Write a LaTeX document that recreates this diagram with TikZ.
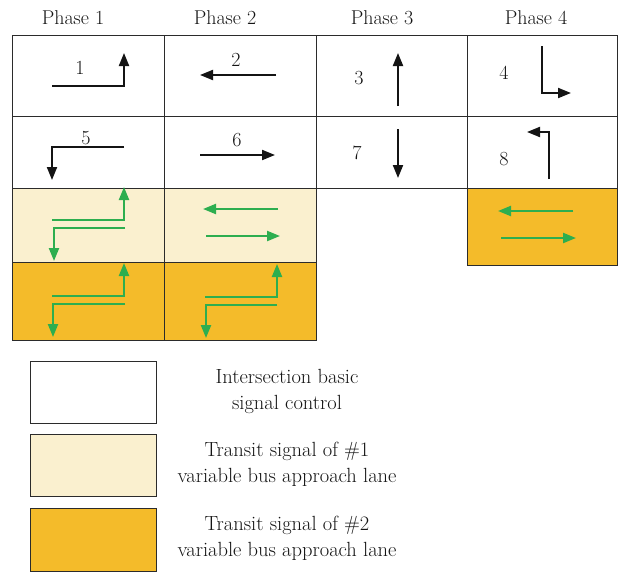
\documentclass[tikz,border=0pt]{standalone}
\usetikzlibrary{arrows.meta}
\definecolor{paleY}{HTML}{FAF0CF}
\definecolor{busO}{HTML}{F4BB2A}
\definecolor{sigG}{HTML}{2DAE4F}
\definecolor{gridC}{HTML}{2B2B2B}
\definecolor{inkC}{HTML}{141414}
\begin{document}
\begin{tikzpicture}[x=1pt,y=-1pt,
  cell/.style={draw=gridC, line width=0.9pt, inner sep=0pt, anchor=north west},
  keybox/.style={draw=gridC, line width=1pt, inner sep=0pt, anchor=north west,
    minimum width=126pt, minimum height=62pt},
  blk/.style={line width=2pt, inkC, line join=miter, -{Triangle[length=13pt,width=10pt]}},
  grn/.style={line width=2.2pt, sigG, line join=miter, -{Triangle[length=13pt,width=10pt]}},
  lbl/.style={font=\fontsize{20}{22}\selectfont, inner sep=0pt, text=inkC},
  keytxt/.style={font=\fontsize{20.5}{26}\selectfont, align=center, text=inkC, inner sep=0pt},
]
\useasboundingbox (0,0) rectangle (618,573);

% phase headings
\node[lbl] (h1) at (73,18) {Phase 1};
\node[lbl] (h2) at (225,18) {Phase 2};
\node[lbl] (h3) at (382,18) {Phase 3};
\node[lbl] (h4) at (536,18) {Phase 4};

% signal grid: rows 1-2 basic control
\node[cell, fill=white, minimum width=152pt, minimum height=81pt] (a1) at (12,35) {};
\node[cell, fill=white, minimum width=152pt, minimum height=81pt] (a2) at (164,35) {};
\node[cell, fill=white, minimum width=151pt, minimum height=81pt] (a3) at (316,35) {};
\node[cell, fill=white, minimum width=150pt, minimum height=81pt] (a4) at (467,35) {};
\node[cell, fill=white, minimum width=152pt, minimum height=72pt] (b1) at (12,116) {};
\node[cell, fill=white, minimum width=152pt, minimum height=72pt] (b2) at (164,116) {};
\node[cell, fill=white, minimum width=151pt, minimum height=72pt] (b3) at (316,116) {};
\node[cell, fill=white, minimum width=150pt, minimum height=72pt] (b4) at (467,116) {};
% row 3: bus lane #1 transit (phase 4 uses lane #2)
\node[cell, fill=paleY, minimum width=152pt, minimum height=74pt] (c1) at (12,188) {};
\node[cell, fill=paleY, minimum width=152pt, minimum height=74pt] (c2) at (164,188) {};
\node[cell, fill=busO, minimum width=150pt, minimum height=77pt] (c4) at (467,188) {};
% row 4: bus lane #2 transit
\node[cell, fill=busO, minimum width=152pt, minimum height=78pt] (d1) at (12,262) {};
\node[cell, fill=busO, minimum width=152pt, minimum height=78pt] (d2) at (164,262) {};

% movement numbers
\node[lbl] (n1) at (80,68) {1};
\node[lbl] (n2) at (236,60) {2};
\node[lbl] (n3) at (359,78) {3};
\node[lbl] (n4) at (504,73) {4};
\node[lbl] (n5) at (86,138) {5};
\node[lbl] (n6) at (237,140) {6};
\node[lbl] (n7) at (357,153) {7};
\node[lbl] (n8) at (504,159) {8};

% basic movements
\draw[blk] (52,86) -- (124,86) -- (124,53);
\draw[blk] (276,75) -- (200,75);
\draw[blk] (398,106) -- (398,53);
\draw[blk] (542,46) -- (542,93) -- (571,93);
\draw[blk] (124,147) -- (52,147) -- (52,180);
\draw[blk] (200,155) -- (275,155);
\draw[blk] (398,129) -- (398,178);
\draw[blk] (549,179) -- (549,132) -- (527,132);

% transit movements, lane #1
\draw[grn] (52,220) -- (124,220) -- (124,187);
\draw[grn] (125,228) -- (54,228) -- (54,261);
\draw[grn] (278,209) -- (203,209);
\draw[grn] (206,236) -- (280,236);
% transit movements, lane #2
\draw[grn] (52,296) -- (124,296) -- (124,263);
\draw[grn] (125,304) -- (53,304) -- (53,337);
\draw[grn] (205,297) -- (277,297) -- (277,264);
\draw[grn] (277,305) -- (206,305) -- (206,338);
\draw[grn] (573,211) -- (498,211);
\draw[grn] (501,238) -- (576,238);

% key
\node[keybox, fill=white] (k1) at (30,361) {};
\node[keybox, fill=paleY] (k2) at (30,434) {};
\node[keybox, fill=busO, minimum height=63pt] (k3) at (30,508) {};
\node[keytxt] (t1) at (287,391) {Intersection basic\\signal control};
\node[keytxt] (t2) at (287,464) {Transit signal of \#1\\variable bus approach lane};
\node[keytxt] (t3) at (287,538) {Transit signal of \#2\\variable bus approach lane};
\end{tikzpicture}
\end{document}
